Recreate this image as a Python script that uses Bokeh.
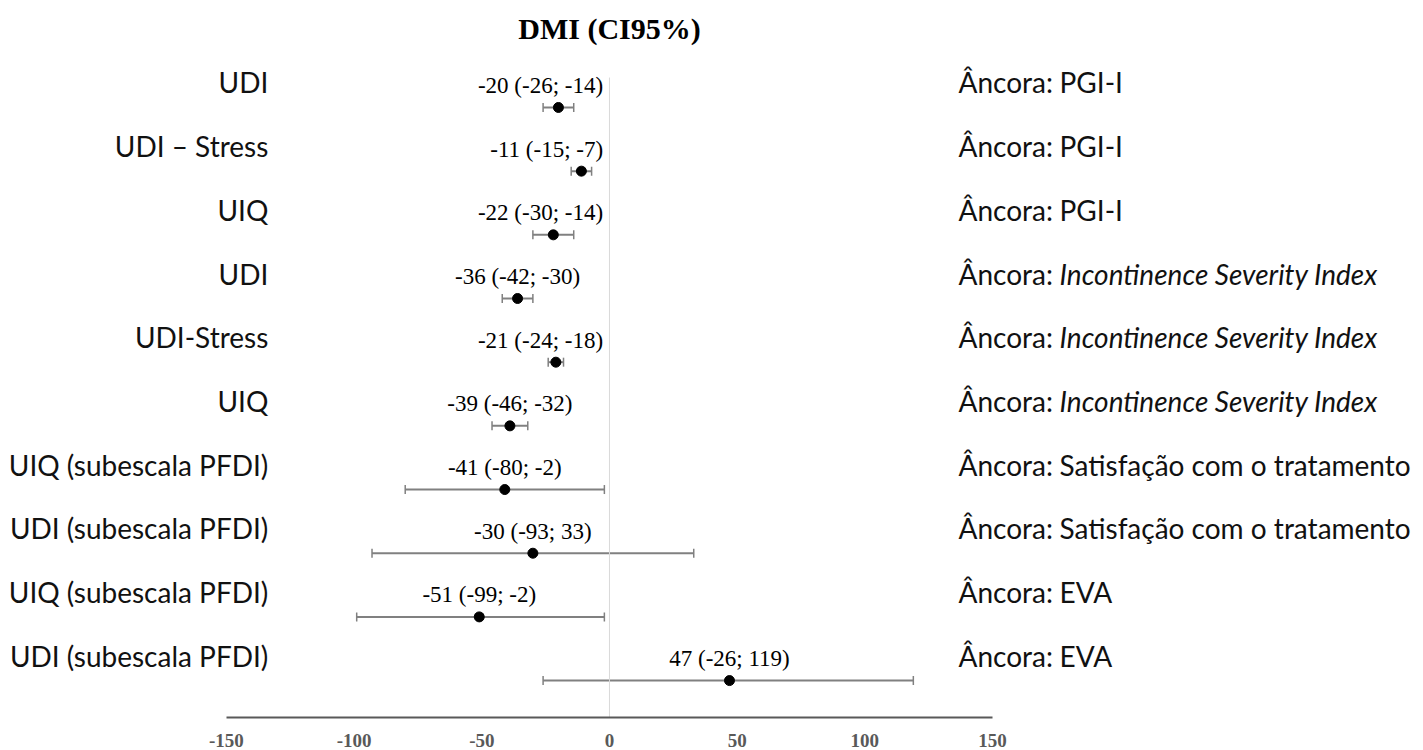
from bokeh.plotting import figure
from bokeh.models import ColumnDataSource, Range1d, Whisker, TeeHead, Label, LinearAxis, FixedTicker
from bokeh.core.properties import value
from bokeh.embed import file_html
from bokeh.resources import INLINE

# ---- data ----
measures = ["UDI", "UDI – Stress", "UIQ", "UDI", "UDI-Stress", "UIQ",
            "UIQ (subescala PFDI)", "UDI (subescala PFDI)",
            "UIQ (subescala PFDI)", "UDI (subescala PFDI)"]
anchors = ["PGI-I", "PGI-I", "PGI-I",
           "Incontinence Severity Index", "Incontinence Severity Index", "Incontinence Severity Index",
           "Satisfação com o tratamento", "Satisfação com o tratamento",
           "EVA", "EVA"]
anchor_italic = [False, False, False, True, True, True, False, False, False, False]
estimate = [-20, -11, -22, -36, -21, -39, -41, -30, -51, 47]
ci_low = [-26, -15, -30, -42, -24, -46, -80, -93, -99, -26]
ci_high = [-14, -7, -14, -30, -18, -32, -2, 33, -2, 119]
x_ticks = [-150, -100, -50, 0, 50, 100, 150]
title_text = "DMI (CI95%)"
anchor_prefix = "Âncora:"

n = len(measures)
rows = list(range(n))
labels = [f"{e} ({l}; {h})" for e, l, h in zip(estimate, ci_low, ci_high)]

src = ColumnDataSource(dict(row=rows, est=estimate, lo=ci_low, hi=ci_high,
                            measure=measures, anchor=anchors, label=labels,
                            prefix=[anchor_prefix] * n))

# label placement: centred on the point unless it would run into the zero line
near = [i for i in rows if -27 < estimate[i] < 0]
far = [i for i in rows if i not in near]
src_near = ColumnDataSource(dict(row=[rows[i] for i in near], label=[labels[i] for i in near]))
src_far = ColumnDataSource(dict(row=[rows[i] for i in far], est=[estimate[i] for i in far],
                                label=[labels[i] for i in far]))
src_norm = ColumnDataSource(dict(row=[i for i in rows if not anchor_italic[i]],
                                 anchor=[anchors[i] for i in rows if not anchor_italic[i]]))
src_ital = ColumnDataSource(dict(row=[i for i in rows if anchor_italic[i]],
                                 anchor=[anchors[i] for i in rows if anchor_italic[i]]))

Y_BOTTOM = 9.58
p = figure(width=1423, height=750, output_backend="svg", toolbar_location=None,
           x_range=Range1d(-238.5, 318.8), y_range=Range1d(Y_BOTTOM, -1.68),
           x_axis_location=None, y_axis_location=None,
           min_border_left=0, min_border_right=0, min_border_top=0, min_border_bottom=33)
p.outline_line_color = None
p.xgrid.visible = False
p.ygrid.visible = False
p.background_fill_color = "white"
p.border_fill_color = "white"

axis = LinearAxis(ticker=FixedTicker(ticks=x_ticks), bounds=(x_ticks[0], x_ticks[-1]))
axis.major_label_overrides = {t: str(t) for t in x_ticks}
axis.axis_line_color = "#595959"
axis.axis_line_width = 2
axis.major_tick_line_color = None
axis.minor_tick_line_color = None
axis.major_label_standoff = 10
axis.major_label_text_font = "Liberation Serif"
axis.major_label_text_font_style = "bold"
axis.major_label_text_font_size = "19px"
axis.major_label_text_color = "#595959"
p.add_layout(axis, "below")

# zero reference line
p.segment(x0=0, x1=0, y0=rows[0] - 0.47, y1=Y_BOTTOM, line_color="#d9d9d9", line_width=1)

# confidence intervals
wh = Whisker(source=src, base="row", lower="lo", upper="hi", dimension="width",
             line_color="#808080", line_width=2,
             lower_head=TeeHead(size=9, line_color="#808080", line_width=1.5),
             upper_head=TeeHead(size=9, line_color="#808080", line_width=1.5))
p.add_layout(wh)

p.scatter(x="est", y="row", source=src, size=10, color="black")

# value labels
serif = value("Liberation Serif")
p.text(x="est", y="row", text="label", source=src_far, text_align="center",
       text_baseline="middle", y_offset=-22, text_font=serif, text_font_size="23px",
       text_color="black")
p.text(x=-2.5, y="row", text="label", source=src_near, text_align="right",
       text_baseline="middle", y_offset=-22, text_font=serif, text_font_size="23px",
       text_color="black")

# left measure labels
sans = value("Lato")
p.text(x=-133.6, y="row", text="measure", source=src, text_align="right",
       text_baseline="middle", y_offset=-25, text_font=sans, text_font_size="28px",
       text_color="#111111")

# right anchor labels
p.text(x=136.7, y="row", text="prefix", source=src, text_align="left",
       text_baseline="middle", y_offset=-25, text_font=sans, text_font_size="28px",
       text_color="#111111")
p.text(x=136.7, y="row", text="anchor", source=src_norm, text_align="left",
       text_baseline="middle", x_offset=101, y_offset=-25, text_font=sans,
       text_font_size="28px", text_color="#111111")
p.text(x=136.7, y="row", text="anchor", source=src_ital, text_align="left",
       text_baseline="middle", x_offset=101, y_offset=-25, text_font=sans,
       text_font_size="28px", text_font_style="italic", text_color="#111111")

p.add_layout(Label(x=0, y=-1.24, text=title_text, text_align="center", text_baseline="middle",
                   text_font="Liberation Serif", text_font_style="bold",
                   text_font_size="30px", text_color="black"))

open("out.html", "w").write(file_html(p, INLINE))
